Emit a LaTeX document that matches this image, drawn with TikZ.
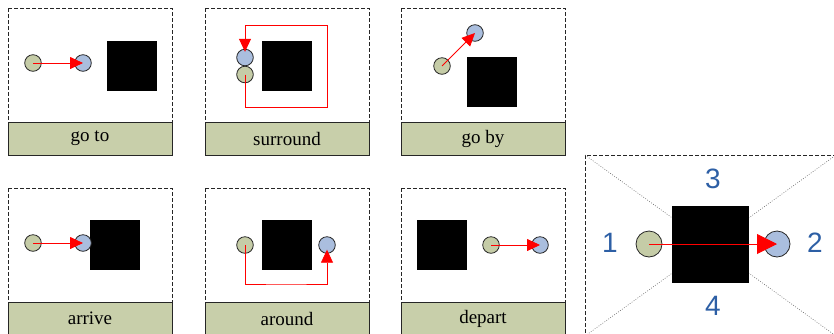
\documentclass[tikz,border=0pt]{standalone}
\usepackage{fontspec}
\setmainfont{Liberation Serif}
\newfontfamily\numfont{Liberation Sans}
\usetikzlibrary{arrows.meta}
\definecolor{startgreen}{HTML}{C5CCA7}
\definecolor{goalblue}{HTML}{AABEDE}
\definecolor{barolive}{HTML}{C8CFAA}
\definecolor{numblue}{HTML}{2D5FA5}
\tikzset{
  start/.style={circle, draw=black!85, line width=0.8pt, fill=startgreen, minimum size=16.6pt, inner sep=0pt},
  goal/.style={circle, draw=black!85, line width=0.8pt, fill=goalblue, minimum size=16.6pt, inner sep=0pt},
  block/.style={fill=black, minimum size=50pt, inner sep=0pt},
  bar/.style={draw=black!85, line width=0.9pt, fill=barolive, minimum width=164pt, minimum height=33pt, inner sep=0pt, font=\fontsize{19}{21}\selectfont},
  frame/.style={black!85, line width=0.8pt, dash pattern=on 4pt off 2pt},
  move/.style={red, line width=0.8pt, -{Triangle[length=13pt,width=12pt]}},
  region/.style={numblue, font=\numfont\fontsize{28}{30}\selectfont}
}
\begin{document}
\begin{tikzpicture}[x=1pt, y=-1pt]
  \useasboundingbox (0,0) rectangle (834,333);
  % go to
  \draw[frame] (8,8) rectangle (172,122);
  \node[bar] (lgoto) at (90,138.5) {go to};
  \node[block] (kgoto) at (132,66) {};
  \node[start] (sgoto) at (33,63) {};
  \node[goal] (ggoto) at (83,63) {};
  \draw[move] (sgoto.center) -- (ggoto.center);
  % surround
  \draw[frame] (205,8) rectangle (369,122);
  \node[bar] (lsurround) at (287,138.5) {surround};
  \node[block] (ksurround) at (287,66) {};
  \node[goal] (gsurround) at (245,57.5) {};
  \node[start] (ssurround) at (245,74.5) {};
  \draw[red, line width=0.8pt] (ssurround.center) |- (327,107) -- (327,25) -- (245,25);
  \draw[move, shorten >=-3pt] (245,25) -- (gsurround.north);
  % go by
  \draw[frame] (401,8) rectangle (565,122);
  \node[bar] (lgoby) at (483,138.5) {go by};
  \node[block] (kgoby) at (492,82) {};
  \node[start] (sgoby) at (442,66) {};
  \node[goal] (ggoby) at (475,33) {};
  \draw[move] (sgoby.center) -- (ggoby.center);
  % arrive
  \draw[frame] (8,188) rectangle (172,302);
  \node[bar] (larrive) at (90,318.5) {arrive};
  \node[block] (karrive) at (115,245) {};
  \node[start] (sarrive) at (33,243) {};
  \node[goal] (garrive) at (83,243) {};
  \draw[move] (sarrive.center) -- (garrive.center);
  % around
  \draw[frame] (205,188) rectangle (369,302);
  \node[bar] (laround) at (287,318.5) {around};
  \node[block] (karound) at (287,245) {};
  \node[start] (saround) at (245,245) {};
  \node[goal] (garound) at (327,245) {};
  \draw[move, shorten >=-4pt] (saround.center) |- (286,284) -| (garound.south);
  % depart
  \draw[frame] (401,188) rectangle (565,302);
  \node[bar] (ldepart) at (483,318.5) {depart};
  \node[block] (kdepart) at (442,245) {};
  \node[start] (sdepart) at (491,245) {};
  \node[goal] (gdepart) at (540,245) {};
  \draw[move] (sdepart.center) -- (gdepart.center);
  % regions
  \draw[frame] (585,155) rectangle (836,336);
  \draw[black!60, line width=0.6pt, dash pattern=on 0.8pt off 1.6pt] (585,155) -- (836,336) (585,336) -- (836,155);
  \node[block, minimum size=77pt] (kbig) at (710.5,244.5) {};
  \node[start, minimum size=26pt] (sbig) at (649,244) {};
  \node[goal, minimum size=26pt] (gbig) at (777,244) {};
  \draw[red, line width=0.9pt, -{Triangle[length=20pt,width=20pt]}] (sbig.center) -- (gbig.center);
  \node[region] (r1) at (610,243) {1};
  \node[region] (r2) at (815,243) {2};
  \node[region] (r3) at (713,179) {3};
  \node[region] (r4) at (713,306) {4};
\end{tikzpicture}
\end{document}
